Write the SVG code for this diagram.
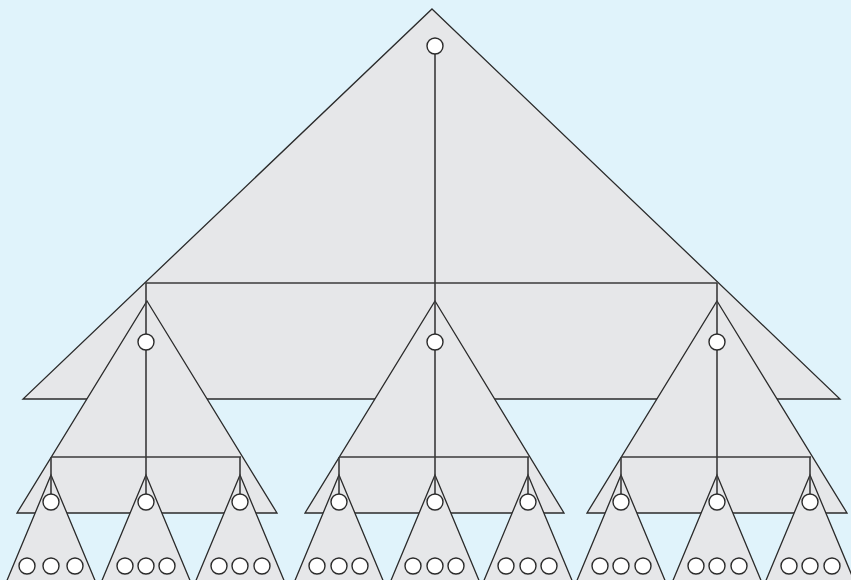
<svg xmlns="http://www.w3.org/2000/svg" width="851" height="580" viewBox="0 0 851 580">
<style>
.tri{fill:#e6e7e9;stroke:#2b2b2b;stroke-width:1.3;stroke-linejoin:miter}
.ln{stroke:#3a3a3a;stroke-width:1.6;fill:none}
.nd{fill:#ffffff;stroke:#2b2b2b;stroke-width:1.4}
</style>
<rect width="851" height="580" fill="#e0f3fb"/>
<g id="tree-top"><polygon class="tri" points="432,9 840,399 23,399"/></g>
<g id="tree-mid">
<polygon class="tri" points="147,301 277,513 17,513"/>
<polygon class="tri" points="435,301 564,513 305,513"/>
<polygon class="tri" points="717,301 847,513 587,513"/>
</g>
<g id="connectors-1">
<line class="ln" x1="435" y1="46" x2="435" y2="457"/>
<line class="ln" x1="146" y1="283" x2="717" y2="283"/>
<line class="ln" x1="146" y1="283" x2="146" y2="457"/>
<line class="ln" x1="717" y1="283" x2="717" y2="457"/>
</g>
<g id="tree-bottom">
<polygon class="tri" points="51,475 99,590 3,590"/>
<polygon class="tri" points="146,475 194,590 98,590"/>
<polygon class="tri" points="240,475 288,590 192,590"/>
<polygon class="tri" points="339,475 387,590 291,590"/>
<polygon class="tri" points="435,475 483,590 387,590"/>
<polygon class="tri" points="528,475 576,590 480,590"/>
<polygon class="tri" points="621,475 669,590 573,590"/>
<polygon class="tri" points="717,475 765,590 669,590"/>
<polygon class="tri" points="810,475 858,590 762,590"/>
</g>
<g id="connectors-2">
<line class="ln" x1="51" y1="457" x2="241" y2="457"/>
<line class="ln" x1="51" y1="457" x2="51" y2="502"/>
<line class="ln" x1="146" y1="457" x2="146" y2="502"/>
<line class="ln" x1="240" y1="457" x2="240" y2="502"/>
<line class="ln" x1="339" y1="457" x2="529" y2="457"/>
<line class="ln" x1="339" y1="457" x2="339" y2="502"/>
<line class="ln" x1="435" y1="457" x2="435" y2="502"/>
<line class="ln" x1="528" y1="457" x2="528" y2="502"/>
<line class="ln" x1="621" y1="457" x2="811" y2="457"/>
<line class="ln" x1="621" y1="457" x2="621" y2="502"/>
<line class="ln" x1="717" y1="457" x2="717" y2="502"/>
<line class="ln" x1="810" y1="457" x2="810" y2="502"/>
</g>
<g id="node-root"><circle class="nd" cx="435" cy="46" r="8"/></g>
<g id="node-mid-left"><circle class="nd" cx="146" cy="342" r="8"/></g>
<g id="node-mid-center"><circle class="nd" cx="435" cy="342" r="8"/></g>
<g id="node-mid-right"><circle class="nd" cx="717" cy="342" r="8"/></g>
<g id="nodes-level2">
<circle class="nd" cx="51" cy="502" r="8"/>
<circle class="nd" cx="146" cy="502" r="8"/>
<circle class="nd" cx="240" cy="502" r="8"/>
<circle class="nd" cx="339" cy="502" r="8"/>
<circle class="nd" cx="435" cy="502" r="8"/>
<circle class="nd" cx="528" cy="502" r="8"/>
<circle class="nd" cx="621" cy="502" r="8"/>
<circle class="nd" cx="717" cy="502" r="8"/>
<circle class="nd" cx="810" cy="502" r="8"/>
</g>
<g id="nodes-leaves">
<circle class="nd" cx="27" cy="566" r="8"/><circle class="nd" cx="51" cy="566" r="8"/><circle class="nd" cx="75" cy="566" r="8"/>
<circle class="nd" cx="125" cy="566" r="8"/><circle class="nd" cx="146" cy="566" r="8"/><circle class="nd" cx="167" cy="566" r="8"/>
<circle class="nd" cx="219" cy="566" r="8"/><circle class="nd" cx="240" cy="566" r="8"/><circle class="nd" cx="262" cy="566" r="8"/>
<circle class="nd" cx="317" cy="566" r="8"/><circle class="nd" cx="339" cy="566" r="8"/><circle class="nd" cx="360" cy="566" r="8"/>
<circle class="nd" cx="413" cy="566" r="8"/><circle class="nd" cx="435" cy="566" r="8"/><circle class="nd" cx="456" cy="566" r="8"/>
<circle class="nd" cx="506" cy="566" r="8"/><circle class="nd" cx="528" cy="566" r="8"/><circle class="nd" cx="549" cy="566" r="8"/>
<circle class="nd" cx="600" cy="566" r="8"/><circle class="nd" cx="621" cy="566" r="8"/><circle class="nd" cx="643" cy="566" r="8"/>
<circle class="nd" cx="696" cy="566" r="8"/><circle class="nd" cx="717" cy="566" r="8"/><circle class="nd" cx="739" cy="566" r="8"/>
<circle class="nd" cx="789" cy="566" r="8"/><circle class="nd" cx="810" cy="566" r="8"/><circle class="nd" cx="832" cy="566" r="8"/>
</g>
</svg>
